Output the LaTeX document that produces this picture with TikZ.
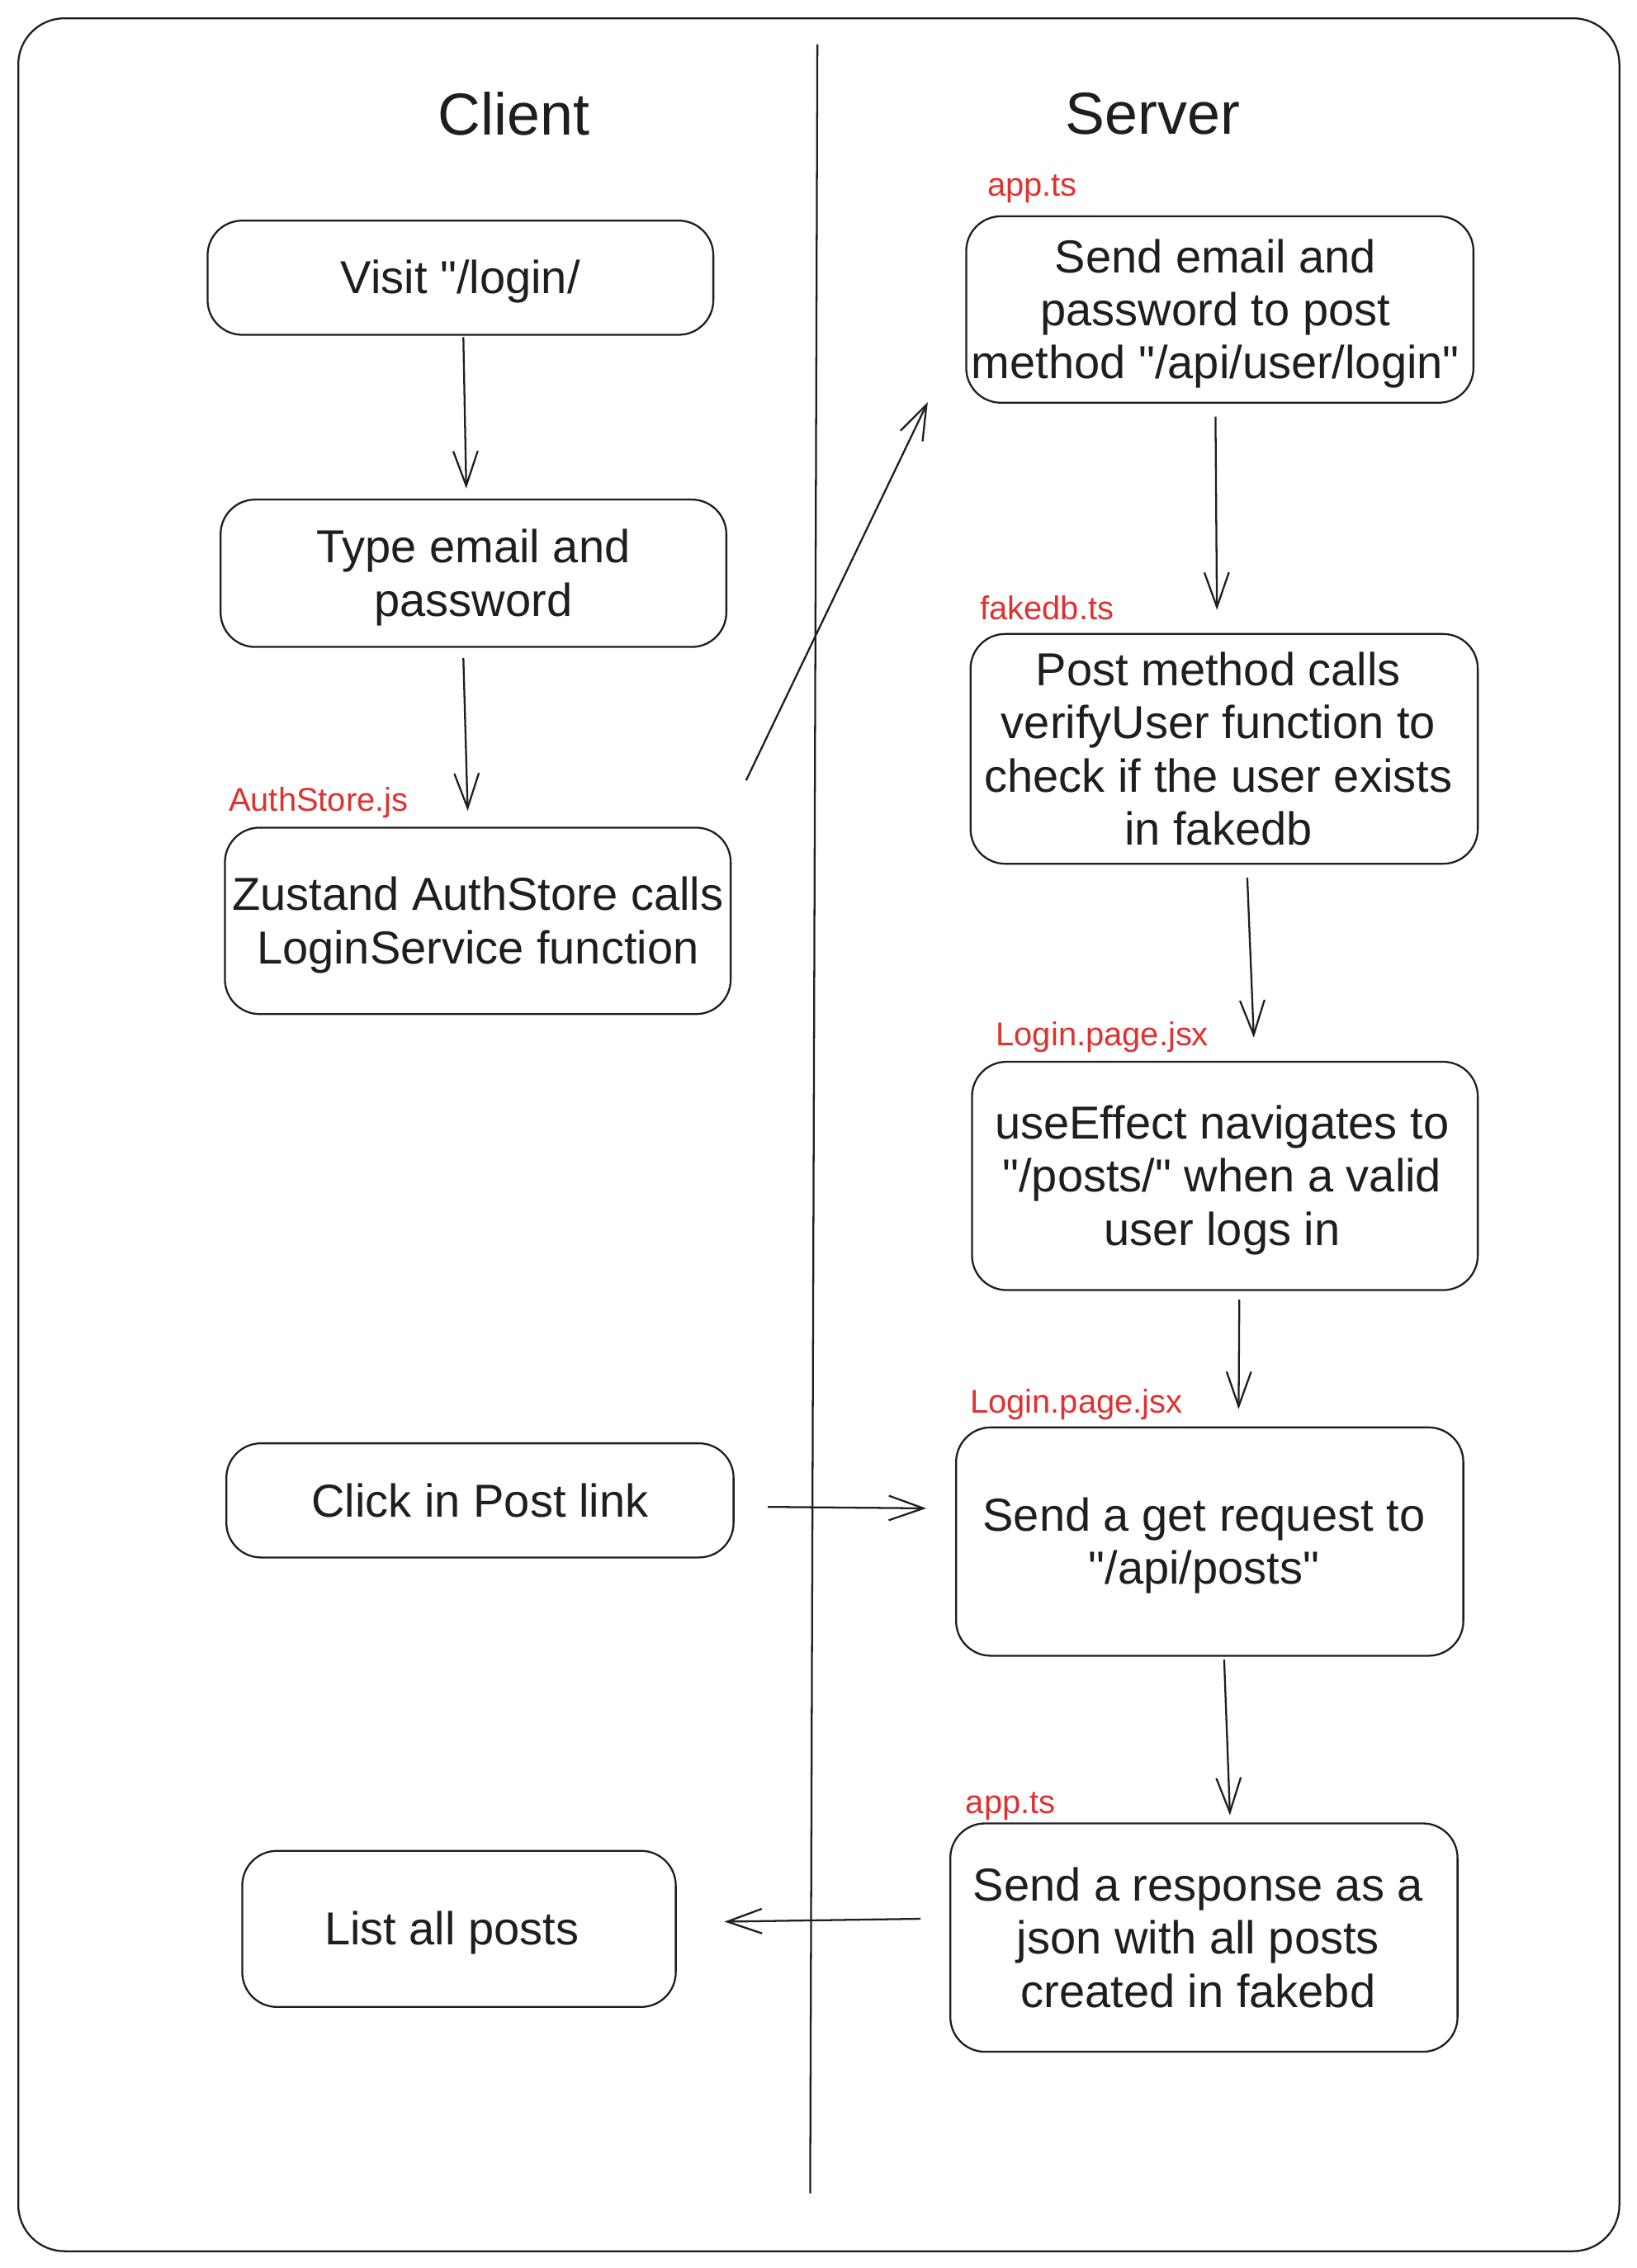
\documentclass[tikz,border=0pt]{standalone}
\usepackage{fontspec}
\setmainfont{Liberation Sans}[Ligatures=TeXOff]
\usetikzlibrary{arrows.meta,calc}
\definecolor{exred}{HTML}{E03131}
\definecolor{exink}{HTML}{1E1E1E}
\newcommand\tp{\rule{0pt}{29pt}}
\begin{document}
\begin{tikzpicture}[x=1pt,y=-1pt,
  every path/.style={line width=1.3pt, draw=exink},
  box/.style={draw=exink, line width=1.3pt, rounded corners=24pt, align=center, inner sep=0pt,
    minimum width=350pt, font=\fontsize{32}{36.8}\selectfont, text=exink},
  tag/.style={anchor=west, inner sep=0pt, text=exred, font=\fontsize{22.8}{27}\selectfont},
  title/.style={inner sep=0pt, text=exink, font=\fontsize{41}{48}\selectfont},
  arr/.style={draw=exink, line width=1.3pt, -{Straight Barb[length=24pt,width=17pt,line width=1.3pt]}}
]
\useasboundingbox (0,0) rectangle (1131,1568);
\fill[white] (0,0) rectangle (1131,1568);
% frame and divider
\draw[rounded corners=32pt] (12,12) rectangle (1120,1557);
\draw (565,30) -- (560,1517);
% titles
\node[title] (tclient) at (355,78) {Client};
\node[title] (tserver) at (797,78) {Server};
% client boxes
\node[box, minimum height=79pt]  (c1) at (318,191.5) {\tp Visit "/login/};
\node[box, minimum height=102pt] (c2) at (327,396) {\tp Type email and\\password};
\node[box, minimum height=129pt] (c3) at (330,636.5) {\tp Zustand AuthStore calls\\LoginService function};
\node[box, minimum height=79pt, minimum width=351pt] (c4) at (331.5,1037.5) {Click in Post link};
\node[box, minimum height=108pt, minimum width=300pt] (c5) at (317,1334) {\tp\hspace*{-10pt}List all posts};
% server boxes
\node[box, minimum height=129pt, minimum width=351pt] (s1) at (843.5,213.5) {\tp\hspace*{-6pt}Send email and\\\hspace*{-6pt}password to post\\\hspace*{-6pt}method "/api/user/login"};
\node[box, minimum height=159pt, minimum width=351pt] (s2) at (846.5,517.5) {\hspace*{-8pt}Post method calls\\\hspace*{-8pt}verifyUser function to\\\hspace*{-8pt}check if the user exists\\\hspace*{-8pt}in fakedb};
\node[box, minimum height=158pt] (s3) at (847,813) {\tp\hspace*{-4pt}useEffect navigates to\\\hspace*{-4pt}"/posts/" when a valid\\\hspace*{-4pt}user logs in};
\node[box, minimum height=158pt, minimum width=351pt] (s4) at (836.5,1066) {\tp\hspace*{-8pt}Send a get request to\\\hspace*{-8pt}"/api/posts"};
\node[box, minimum height=158pt, minimum width=351pt] (s5) at (832.5,1340) {\hspace*{-8pt}Send a response as a\\\hspace*{-8pt}json with all posts\\\hspace*{-8pt}created in fakebd};
% red labels
\node[tag] (l3) at (157,555) {AuthStore.js};
\node[tag] (l1) at (682,130) {app.ts};
\node[tag] (l2) at (677,420) {fakedb.ts};
\node[tag] (l4) at (688,717) {Login.page.jsx};
\node[tag] (l5) at (670,971) {Login.page.jsx};
\node[tag] (l6) at (667,1249) {app.ts};
% connectors
\draw[arr] ([xshift=2pt,yshift=-1pt]c1.south) -- ([xshift=-5pt,yshift=7pt]c2.north);
\draw[arr] ([xshift=-7pt,yshift=-7pt]c2.south) -- ([xshift=-7pt,yshift=11pt]c3.north);
\draw[arr] ([xshift=10pt,yshift=32pt]c3.north east) -- ([xshift=-26pt,yshift=1pt]s1.south west);
\draw[arr] ([xshift=-3pt,yshift=-9pt]s1.south) -- ([xshift=-5pt,yshift=16pt]s2.north);
\draw[arr] ([xshift=16pt,yshift=-9pt]s2.south) -- ([xshift=20pt,yshift=16pt]s3.north);
\draw[arr] ([xshift=10pt,yshift=-6pt]s3.south) -- ([xshift=20pt,yshift=12pt]s4.north);
\draw[arr] ([xshift=23pt,yshift=-4.5pt]c4.east) -- ([xshift=-20pt,yshift=23pt]s4.west);
\draw[arr] ([xshift=10pt,yshift=-2pt]s4.south) -- ([xshift=18pt,yshift=5pt]s5.north);
\draw[arr] ([xshift=-20pt,yshift=13pt]s5.west) -- ([xshift=33pt,yshift=5pt]c5.east);
\end{tikzpicture}
\end{document}
